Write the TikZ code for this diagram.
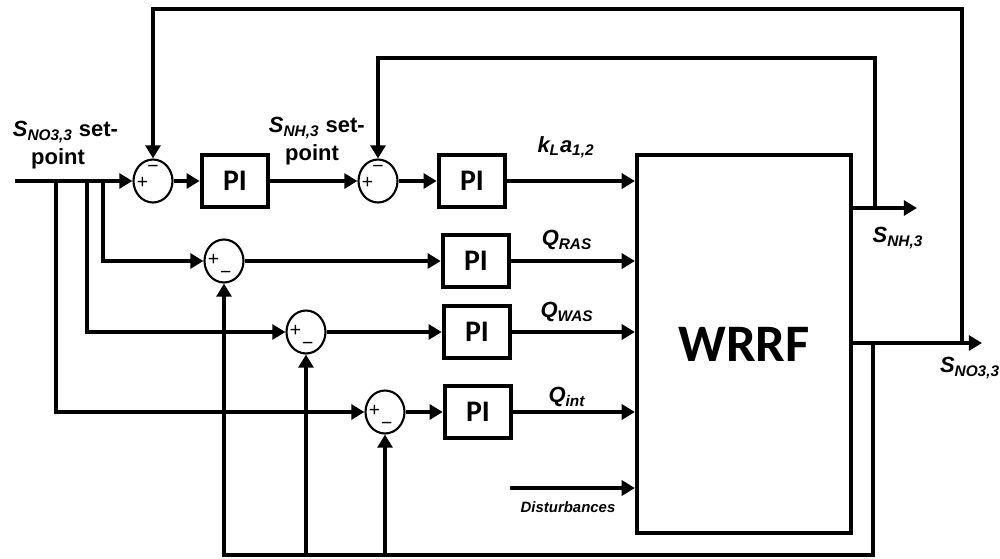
\documentclass[tikz,border=0pt]{standalone}
\usepackage{fontspec}
\setmainfont{Liberation Sans}
\newfontfamily\calfont{Carlito}
\usetikzlibrary{arrows.meta,shapes.geometric}

\begin{document}
\begin{tikzpicture}[x=0.02cm,y=-0.02cm,line width=2.2pt,
  sig/.style={-{Triangle[length=7.5pt,width=8.5pt]}},
  sumpt/.style={draw,ellipse,line width=1.2pt,minimum width=0.78cm,minimum height=0.86cm,inner sep=0pt},
  sgn/.style={inner sep=0pt,font=\fontsize{11}{11}\selectfont},
  pibox/.style={draw,line width=2.6pt,minimum width=1.32cm,minimum height=1.04cm,font=\calfont\bfseries\fontsize{17}{17}\selectfont},
  lbl/.style={inner sep=0pt,font=\bfseries\fontsize{12.5}{14}\selectfont},
  sym/.style={inner sep=0pt,font=\bfseries\itshape\fontsize{12.5}{14}\selectfont}]
\useasboundingbox (0,0) rectangle (1000,558);

% plant
\node[draw,line width=2.4pt,minimum width=4.28cm,minimum height=7.56cm,
  font=\calfont\bfseries\fontsize{30}{30}\selectfont] (wrrf) at (744,344) {WRRF};

% summing points
\node[sumpt] (s1) at (153,181) {};
\node[sumpt] (s5) at (378,181) {};
\node[sumpt] (s2) at (224,261) {};
\node[sumpt] (s3) at (306,332) {};
\node[sumpt] (s4) at (385,412) {};
\foreach \s in {s1,s5} {
  \node[sgn] at ([xshift=-6pt,yshift=-1pt]\s.center) {+};
  \node[sgn] at ([yshift=7pt]\s.center) {−};
}
\foreach \s in {s2,s3,s4} {
  \node[sgn] at ([xshift=-6pt,yshift=0.5pt]\s.center) {+};
  \node[sgn] at ([xshift=1pt,yshift=-8pt]\s.center) {−};
}

% controllers
\node[pibox] (pi1) at (235,181) {PI};
\node[pibox] (pi2) at (472,181) {PI};
\node[pibox] (pi3) at (476,261) {PI};
\node[pibox] (pi4) at (477,332) {PI};
\node[pibox] (pi5) at (478,412) {PI};

% set-point and branches
\coordinate (in) at (15,181);
\coordinate (b2) at (103,181);
\coordinate (b3) at (87,181);
\coordinate (b4) at (56,181);
\draw[sig] (in) -- (s1);
\draw[sig] (b2) |- (s2);
\draw[sig] (b3) |- (s3);
\draw[sig] (b4) |- (s4);

% forward path
\draw[sig] (s1) -- (pi1);
\draw[sig] (pi1) -- (s5);
\draw[sig] (s5) -- (pi2);
\draw[sig] (s2) -- (pi3);
\draw[sig] (s3) -- (pi4);
\draw[sig] (s4) -- (pi5);
\foreach \p in {pi2,pi3,pi4,pi5}
  \draw[sig] (\p) -- (\p -| wrrf.west);
\coordinate (dist) at (510,488);
\draw[sig] (dist) -- (dist -| wrrf.west);

% outputs and feedback
\coordinate (outnh) at (917,208);
\coordinate (outno) at (982,343);
\coordinate (tapnh) at (875,208);
\coordinate (tapno) at (962,343);
\coordinate (tapbot) at (873,343);
\coordinate (bot) at (873,555);
\draw[sig] (outnh -| wrrf.east) -- (outnh);
\draw[sig] (outno -| wrrf.east) -- (outno);
\draw[sig] (tapnh) -- ++(0,-150) -| (s5);
\draw[sig] (tapno) -- ++(0,-334) -| (s1);
\draw[sig] (tapbot) -- (bot) -| (s2);
\draw[sig] (s3 |- bot) -- (s3);
\draw[sig] (s4 |- bot) -- (s4);

% labels
\node[lbl,anchor=west] (lsno) at (11,132) {\itshape S\textsubscript{NO3,3}\upshape\ set-};
\node[lbl] (lsnop) at (58,159) {point};
\node[lbl,anchor=west] (lsnh) at (267,128) {\itshape S\textsubscript{NH,3}\upshape\ set-};
\node[lbl] (lsnhp) at (312,155) {point};
\node[sym] (lkla) at (566,147) {k\textsubscript{L}a\textsubscript{1,2}};
\node[sym] (lras) at (567,240) {Q\textsubscript{RAS}};
\node[sym] (lwas) at (567,312) {Q\textsubscript{WAS}};
\node[sym] (lint) at (567,397) {Q\textsubscript{int}};
\node[sym] (lonh) at (898,238) {S\textsubscript{NH,3}};
\node[sym] (lono) at (970,368) {S\textsubscript{NO3,3}};
\node[sym,font=\bfseries\itshape\fontsize{8.5}{10}\selectfont] (ldist) at (568,507) {Disturbances};
\end{tikzpicture}
\end{document}
